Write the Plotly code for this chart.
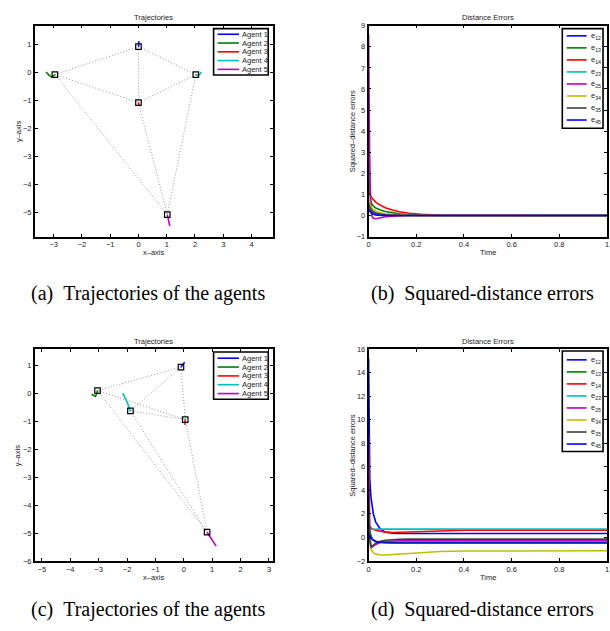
import plotly.graph_objects as go

# ---------------- data ----------------
agent_names = ["Agent 1", "Agent 2", "Agent 3", "Agent 4", "Agent 5"]
edge_list = [(1, 2), (1, 3), (1, 4), (2, 3), (2, 5), (3, 4), (3, 5), (4, 5)]
error_names = ["12", "13", "14", "23", "25", "34", "35", "45"]

# (a) trajectories
traj_a_x = [
    [0.02, 0.01, 0.0, 0.0],
    [-3.27, -3.17, -3.07, -2.96],
    [0.02, 0.01, 0.0],
    [2.22, 2.18, 2.12, 2.03],
    [1.11, 1.07, 1.02],
]
traj_a_y = [
    [1.12, 1.05, 0.98, 0.92],
    [0.01, -0.1, -0.17, -0.08],
    [-1.2, -1.14, -1.08],
    [0.02, -0.06, -0.12, -0.08],
    [-5.5, -5.3, -5.09],
]
# (c) trajectories
traj_c_x = [
    [0.03, -0.04, -0.1],
    [-3.25, -3.17, -3.11, -3.07, -3.04],
    [0.04, 0.05, 0.05],
    [-2.15, -2.0, -1.88],
    [1.14, 0.98, 0.82],
]
traj_c_y = [
    [1.13, 1.04, 0.95],
    [-0.02, -0.08, -0.1, 0.0, 0.11],
    [-1.12, -1.02, -0.93],
    [0.02, -0.3, -0.62],
    [-5.47, -5.22, -4.97],
]

time = [0, 0.002, 0.005, 0.01, 0.015, 0.02, 0.03, 0.04, 0.05, 0.07, 0.1,
        0.13, 0.17, 0.22, 0.3, 0.4, 0.6, 0.8, 1.0]

err_b = [
    [5.5, 3.0, 1.0, 0.3, 0.15, 0.1, 0.06, 0.04, 0.03, 0.02, 0.01, 0, 0, 0, 0, 0, 0, 0, 0],
    [2.0, 1.3, 0.9, 0.62, 0.52, 0.45, 0.36, 0.3, 0.26, 0.19, 0.12, 0.08, 0.04, 0.02, 0.01, 0, 0, 0, 0],
    [1.1, 1.05, 1.0, 0.9, 0.82, 0.75, 0.64, 0.55, 0.48, 0.37, 0.26, 0.18, 0.11, 0.06, 0.02, 0.01, 0, 0, 0],
    [0.4, 0.3, 0.22, 0.15, 0.1, 0.08, 0.05, 0.03, 0.02, 0.01, 0, 0, 0, 0, 0, 0, 0, 0, 0],
    [8.6, 5.0, 2.0, 0.4, -0.05, -0.13, -0.15, -0.13, -0.1, -0.06, -0.03, -0.01, 0, 0, 0, 0, 0, 0, 0],
    [1.0, 0.8, 0.6, 0.42, 0.34, 0.28, 0.2, 0.16, 0.13, 0.08, 0.05, 0.03, 0.01, 0, 0, 0, 0, 0, 0],
    [0.6, 0.5, 0.38, 0.28, 0.22, 0.18, 0.12, 0.09, 0.07, 0.04, 0.02, 0.01, 0, 0, 0, 0, 0, 0, 0],
    [0.3, 0.25, 0.18, 0.12, 0.08, 0.06, 0.03, 0.02, 0.01, 0, 0, 0, 0, 0, 0, 0, 0, 0, 0],
]

err_d = [
    [15.2, 9.0, 5.0, 3.4, 2.6, 2.0, 1.3, 0.95, 0.7, 0.45, 0.36, 0.34, 0.33, 0.33, 0.33, 0.33, 0.33, 0.33, 0.33],
    [0.8, 0.65, 0.45, 0.15, -0.1, -0.25, -0.38, -0.43, -0.44, -0.43, -0.42, -0.42, -0.42, -0.42, -0.42, -0.42, -0.42, -0.42, -0.42],
    [1.1, 1.0, 0.9, 0.8, 0.72, 0.68, 0.6, 0.55, 0.5, 0.45, 0.42, 0.44, 0.48, 0.53, 0.58, 0.61, 0.62, 0.62, 0.62],
    [0.5, 0.6, 0.66, 0.69, 0.7, 0.7, 0.7, 0.7, 0.7, 0.7, 0.7, 0.7, 0.7, 0.7, 0.7, 0.7, 0.7, 0.7, 0.7],
    [8.7, 4.0, 0.5, -0.9, -0.85, -0.75, -0.6, -0.5, -0.42, -0.35, -0.3, -0.29, -0.28, -0.28, -0.28, -0.28, -0.28, -0.28, -0.28],
    [1.0, 0.3, -0.5, -1.0, -1.2, -1.3, -1.42, -1.48, -1.5, -1.49, -1.45, -1.4, -1.33, -1.26, -1.2, -1.16, -1.14, -1.14, -1.14],
    [3.7, 1.5, -0.2, -0.8, -0.75, -0.65, -0.5, -0.4, -0.32, -0.24, -0.18, -0.16, -0.15, -0.15, -0.15, -0.15, -0.15, -0.15, -0.15],
    [0.3, 0.2, 0.1, -0.05, -0.15, -0.22, -0.32, -0.38, -0.42, -0.45, -0.47, -0.47, -0.47, -0.47, -0.47, -0.47, -0.47, -0.47, -0.47],
]

# ---------------- style ----------------
COLORS = ["#0000ff", "#008000", "#ff0000", "#00bfbf", "#bf00bf", "#bfbf00", "#404040", "#0000ff"]
W, H = 610, 631
FONT = "Liberation Sans, Arial, sans-serif"
FS = 7.5


def X(px):
    return px / W


def Y(py):
    return 1 - py / H


fig = go.Figure()

panels = {
    "a": dict(xa="x", ya="y", left=33, right=273, top=22, bottom=236),
    "b": dict(xa="x2", ya="y2", left=369, right=609, top=22, bottom=236),
    "c": dict(xa="x3", ya="y3", left=33, right=273, top=350, bottom=565),
    "d": dict(xa="x4", ya="y4", left=369, right=609, top=350, bottom=565),
}


def add_traj(px, py, panel):
    p = panels[panel]
    fx = [t[-1] for t in px]
    fy = [t[-1] for t in py]
    for (i, j) in edge_list:
        fig.add_trace(go.Scatter(x=[fx[i - 1], fx[j - 1]], y=[fy[i - 1], fy[j - 1]], mode="lines",
                                 line=dict(color="#9a9a9a", width=1, dash="1px,2px"),
                                 xaxis=p["xa"], yaxis=p["ya"], showlegend=False, hoverinfo="skip"))
    for k in range(5):
        fig.add_trace(go.Scatter(x=px[k], y=py[k], mode="lines", name=agent_names[k],
                                 line=dict(color=COLORS[k], width=1.6),
                                 xaxis=p["xa"], yaxis=p["ya"], showlegend=False))
    fig.add_trace(go.Scatter(x=fx, y=fy, mode="markers",
                             marker=dict(symbol="square-open", size=5.5, color="black", line=dict(width=1.2)),
                             xaxis=p["xa"], yaxis=p["ya"], showlegend=False, hoverinfo="skip"))


def add_err(errs, panel):
    p = panels[panel]
    for k in range(8):
        fig.add_trace(go.Scatter(x=time, y=errs[k], mode="lines", name="e" + error_names[k],
                                 line=dict(color=COLORS[k], width=1.6),
                                 xaxis=p["xa"], yaxis=p["ya"], showlegend=False))


add_traj(traj_a_x, traj_a_y, "a")
add_err(err_b, "b")
add_traj(traj_c_x, traj_c_y, "c")
add_err(err_d, "d")


def axis_style(domain, rng, dtick, tickvals=None, ticktext=None):
    d = dict(domain=domain, range=rng, showline=True, linecolor="black", linewidth=1.6,
             mirror="allticks", ticks="inside", ticklen=3, tickwidth=1, tickcolor="black",
             showgrid=False, zeroline=False, ticklabeloverflow="allow",
             tickfont=dict(size=FS, color="#222", family=FONT))
    if tickvals is not None:
        d["tickvals"] = tickvals
        d["ticktext"] = ticktext
    else:
        d["dtick"] = dtick
        d["tick0"] = 0
    return d


time_ticks = [0, 0.2, 0.4, 0.6, 0.8, 1]
time_labels = ["0", "0.2", "0.4", "0.6", "0.8", "1"]

lay = {}
for key, name in zip(["a", "b", "c", "d"], ["", "2", "3", "4"]):
    p = panels[key]
    xd = [X(p["left"]), X(p["right"])]
    yd = [Y(p["bottom"]), Y(p["top"])]
    if key == "a":
        xa = axis_style(xd, [-3.67, 4.77], 1)
        ya = axis_style(yd, [-5.88, 1.67], 1)
    elif key == "c":
        xa = axis_style(xd, [-5.25, 3.15], 1)
        ya = axis_style(yd, [-6, 1.6], 1)
    elif key == "b":
        xa = axis_style(xd, [0, 1], None, tickvals=time_ticks, ticktext=time_labels)
        ya = axis_style(yd, [-1, 9], 1)
    else:
        xa = axis_style(xd, [0, 1], None, tickvals=time_ticks, ticktext=time_labels)
        ya = axis_style(yd, [-2, 16], 2)
    xa["anchor"] = "y" + name
    ya["anchor"] = "x" + name
    lay["xaxis" + name] = xa
    lay["yaxis" + name] = ya

annotations = []
shapes = []


def txt(x, y, s, size=FS, xanchor="center", yanchor="middle", angle=0, family=FONT, color="#222"):
    annotations.append(dict(x=X(x), y=Y(y), xref="paper", yref="paper", text=s, showarrow=False,
                            xanchor=xanchor, yanchor=yanchor, textangle=angle,
                            font=dict(size=size, family=family, color=color)))


# titles and axis labels
txt(153, 13.5, "Trajectories")
txt(153, 342, "Trajectories")
txt(489, 13.5, "Distance Errors")
txt(489, 342, "Distance Errors")
txt(153, 252.5, "x\u2013axis")
txt(153, 581.5, "x\u2013axis")
txt(489, 252.5, "Time")
txt(489, 581.5, "Time")
txt(16, 129, "y\u2013axis", angle=-90)
txt(16, 458, "y\u2013axis", angle=-90)
txt(352.5, 129, "Squared\u2013distance errors", angle=-90)
txt(352.5, 458, "Squared\u2013distance errors", angle=-90)

# captions
SERIF = "Liberation Serif, Times New Roman, serif"
NB = "\u00a0\u00a0"
txt(147, 294, "(a)" + NB + "Trajectories of the agents", size=20, family=SERIF, color="black")
txt(483.5, 294, "(b)" + NB + "Squared-distance errors", size=20, family=SERIF, color="black")
txt(147, 614, "(c)" + NB + "Trajectories of the agents", size=20, family=SERIF, color="black")
txt(483.5, 614, "(d)" + NB + "Squared-distance errors", size=20, family=SERIF, color="black")


def legend_box(x0, x1, y0, y1):
    shapes.append(dict(type="rect", xref="paper", yref="paper", x0=X(x0), x1=X(x1), y0=Y(y1), y1=Y(y0),
                       line=dict(color="black", width=1.6), fillcolor="white", layer="above"))


def legend_entry(lx0, lx1, y, color, label, tx):
    shapes.append(dict(type="line", xref="paper", yref="paper", x0=X(lx0), x1=X(lx1), y0=Y(y), y1=Y(y),
                       line=dict(color=color, width=1.6), layer="above"))
    txt(tx, y, label, xanchor="left")


# legends (a), (c)
for (top, bot, ys) in [(25, 72, [30.7, 39.6, 48.5, 57.4, 66.3]),
                       (353, 401, [359.3, 368.3, 377.3, 386.2, 395.2])]:
    legend_box(213, 268, top, bot)
    for k in range(5):
        legend_entry(217, 238.5, ys[k], COLORS[k], agent_names[k], 239.5)

# legends (b), (d)
for (top, bot, y0) in [(25, 126, 32.3), (352, 454, 361)]:
    legend_box(564, 605, top, bot)
    for k in range(8):
        yy = y0 + k * 12.2
        legend_entry(568.5, 588.5, yy, COLORS[k], "e<sub>" + error_names[k] + "</sub>", 590.5)

fig.update_layout(
    width=W, height=H, autosize=False,
    margin=dict(l=0, r=0, t=0, b=0),
    paper_bgcolor="white", plot_bgcolor="white",
    showlegend=False,
    annotations=annotations, shapes=shapes,
    **lay,
)

fig.write_html("out.html", config={"displayModeBar": False},
               post_script="document.body.style.margin='0';document.body.style.overflow='hidden';")
